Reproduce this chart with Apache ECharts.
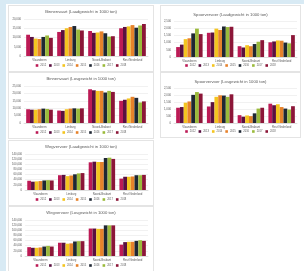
<!DOCTYPE html>
<html>
<head>
<meta charset="utf-8">
<script src="https://cdn.jsdelivr.net/npm/echarts@6/dist/echarts.min.js"></script>
<style>
  html, body { margin: 0; padding: 0; }
  body { width: 304px; height: 271px; background: #d8eaf4; position: relative; overflow: hidden; }
  #page { position: absolute; left: 6px; top: 4px; width: 298px; height: 267px; background: #fff; }
  .card { position: absolute; background: #fff; border: 1px solid #e4e4e4; box-sizing: border-box; }
</style>
</head>
<body>
<div id="page"></div>
<div class="card" id="c1" style="left:8px;top:5px;width:146px;height:67px"></div>
<div class="card" id="c2" style="left:8px;top:72px;width:146px;height:67px"></div>
<div class="card" id="c3" style="left:8px;top:140px;width:146px;height:66px"></div>
<div class="card" id="c4" style="left:8px;top:206px;width:146px;height:66px"></div>
<div class="card" id="c5" style="left:160px;top:5px;width:141px;height:67px"></div>
<div class="card" id="c6" style="left:160px;top:72px;width:141px;height:66px"></div>
<script>
// categorieën en jaren
var regions = ['Vlaanderen', 'Limburg', 'Noord-Brabant', 'Rest Nederland'];
var years = ['2012', '2013', '2014', '2015', '2016', '2017', '2018'];
var colors = ['#bc1a55', '#5a1040', '#f4c51f', '#e6822b', '#1f2733', '#9bba3b', '#8c1638'];

// waarden per jaar (rij) en regio (kolom), in 1000 ton
var binnenvaartLaad = [
    [11500, 13000, 13500, 15000],
    [10300, 14000, 12500, 15700],
    [9400, 15000, 12700, 16000],
    [9200, 15700, 13300, 16700],
    [10300, 16200, 12300, 15300],
    [11100, 14300, 10500, 16500],
    [9800, 13800, 10700, 17300]
];
var binnenvaartLos = [
    [9300, 8400, 22800, 15000],
    [9000, 8200, 22100, 15700],
    [9000, 9300, 21700, 16600],
    [9300, 9700, 21700, 17700],
    [9700, 9900, 20600, 17000],
    [9500, 9700, 21700, 13900],
    [9000, 9900, 21000, 14600]
];
var spoorLaad = [
    [690, 1680, 750, 1020],
    [860, 1700, 660, 1080],
    [1240, 1970, 820, 1150],
    [1300, 1880, 750, 1130],
    [1640, 2120, 900, 1000],
    [1970, 2080, 1060, 950],
    [1590, 2100, 1170, 1520]
];
var spoorLos = [
    [1090, 1180, 560, 1380],
    [1140, 1490, 450, 1270],
    [1450, 1870, 540, 1340],
    [1540, 1980, 490, 1140],
    [2010, 1960, 690, 1030],
    [2210, 1870, 1030, 960],
    [2100, 2050, 1090, 1200]
];
var wegLaad = [
    [35900, 57500, 107700, 44300],
    [32300, 58700, 110100, 51500],
    [33500, 53900, 108900, 51500],
    [34700, 56300, 108900, 52700],
    [37100, 61000, 124500, 57500],
    [38300, 64600, 125700, 57500],
    [37100, 65800, 120900, 58700]
];
var wegLos = [
    [34400, 51600, 106800, 44200],
    [31900, 51600, 106800, 54000],
    [31900, 47900, 105600, 55300],
    [33200, 49100, 105600, 55300],
    [36800, 56500, 119100, 58900],
    [39300, 57700, 119100, 61400],
    [36800, 57700, 119100, 58900]
];

var font = 'Liberation Sans';
var grey = '#595959';

function drawChart(id, title, values, max, interval, lay) {
    var chart = echarts.init(document.getElementById(id), null, { renderer: 'canvas' });
    chart.setOption({
        animation: false,
        color: colors,
        title: {
            text: title, left: 'center', top: lay.titleTop, padding: 0,
            textStyle: { fontFamily: font, fontSize: 4.2, fontWeight: 'normal', color: grey }
        },
        legend: {
            bottom: lay.legendBottom, left: 'center', itemWidth: 2.6, itemHeight: 2.6, itemGap: 3,
            icon: 'rect', padding: 0,
            textStyle: { fontFamily: font, fontSize: 2.6, color: grey, padding: [0, 0, 0, -3] },
            data: years
        },
        grid: { left: lay.left, right: lay.right, top: lay.top, bottom: lay.bottom },
        xAxis: {
            type: 'category', data: regions,
            axisTick: { show: false },
            axisLine: { lineStyle: { color: '#d0d0d0', width: 0.6 } },
            axisLabel: { fontFamily: font, fontSize: 2.8, color: grey, margin: 2.5, interval: 0 }
        },
        yAxis: {
            type: 'value', min: 0, max: max, interval: interval,
            axisLabel: { fontFamily: font, fontSize: 2.8, color: grey, margin: 3 },
            splitLine: { lineStyle: { color: '#e2e2e2', width: 0.5 } }
        },
        series: years.map(function (y, i) {
            return { name: y, type: 'bar', data: values[i], barGap: '0%', barCategoryGap: '14%' };
        })
    });
}

var layLeft = { titleTop: 4, legendBottom: 4, left: 15, right: 5, top: 13, bottom: 15 };
var layRight = { titleTop: 7, legendBottom: 4, left: 13, right: 3, top: 15, bottom: 14 };

drawChart('c1', 'Binnenvaart (Laadgewicht in 1000 ton)', binnenvaartLaad, 20000, 5000, layLeft);
drawChart('c2', 'Binnenvaart (Losgewicht in 1000 ton)', binnenvaartLos, 25000, 5000, layLeft);
drawChart('c3', 'Wegvervoer (Laadgewicht in 1000 ton)', wegLaad, 140000, 20000, layLeft);
drawChart('c4', 'Wegvervoer (Losgewicht in 1000 ton)', wegLos, 140000, 20000, layLeft);
drawChart('c5', 'Spoorvervoer (Laadgewicht in 1000 ton)', spoorLaad, 2500, 500, layRight);
drawChart('c6', 'Spoorvervoer (Losgewicht in 1000 ton)', spoorLos, 2500, 500, layRight);
</script>
</body>
</html>
